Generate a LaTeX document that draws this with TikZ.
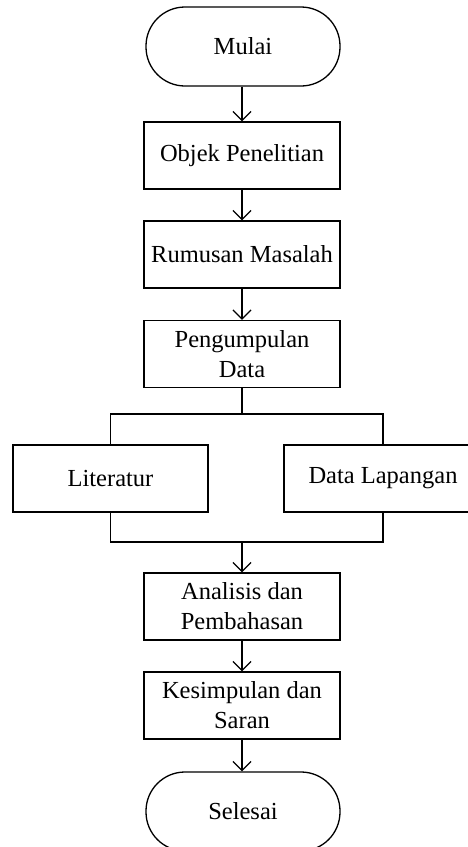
\documentclass[tikz,border=0pt]{standalone}
\usepackage{fontspec}
\setmainfont{Liberation Serif}
\usetikzlibrary{arrows.meta}
\begin{document}
\begin{tikzpicture}[x=1pt,y=-1pt,
  line width=1.3pt,
  every node/.style={font=\fontsize{24.5}{30}\selectfont},
  boxnode/.style={draw,rectangle,inner sep=0pt,align=center,minimum width=196pt,minimum height=67pt},
  termnode/.style={draw,rectangle,rounded corners=39pt,inner sep=0pt,minimum width=194pt,minimum height=79pt},
  arr/.style={-{Straight Barb[length=9pt,width=18pt,line width=1.3pt]}}]
\useasboundingbox (0,0) rectangle (467,847);
\node[termnode] (mulai) at (243,46.5) {Mulai};
\node[boxnode] (objek) at (242,155.5) {Objek Penelitian};
\node[boxnode] (rumus) at (242,254.5) {Rumusan Masalah};
\node[boxnode] (kumpul) at (242,354) {Pengumpulan\\Data};
\node[boxnode,minimum width=195pt] (lit) at (110.5,478.5) {Literatur};
\node[boxnode,minimum width=198pt] (lap) at (383,478.5) {Data Lapangan};
\node[boxnode] (anal) at (242,606.5) {Analisis dan\\Pembahasan};
\node[boxnode] (simp) at (242,705.5) {Kesimpulan dan\\Saran};
\node[termnode] (selesai) at (243,811.5) {Selesai};
\coordinate (split) at (242,414);
\coordinate (merge) at (242,542);
\draw[arr] (mulai.south -| objek.south) -- (objek.north);
\draw[arr] (objek.south) -- (rumus.north);
\draw[arr] (rumus.south) -- (kumpul.north);
\draw (kumpul.south) -- (split);
\draw (lit.north) |- (split) -| (lap.north);
\draw (lit.south) |- (merge) -| (lap.south);
\draw[arr] (merge) -- (anal.north);
\draw[arr] (anal.south) -- (simp.north);
\draw[arr] (simp.south) -- (selesai.north -| simp.south);
\end{tikzpicture}
\end{document}
